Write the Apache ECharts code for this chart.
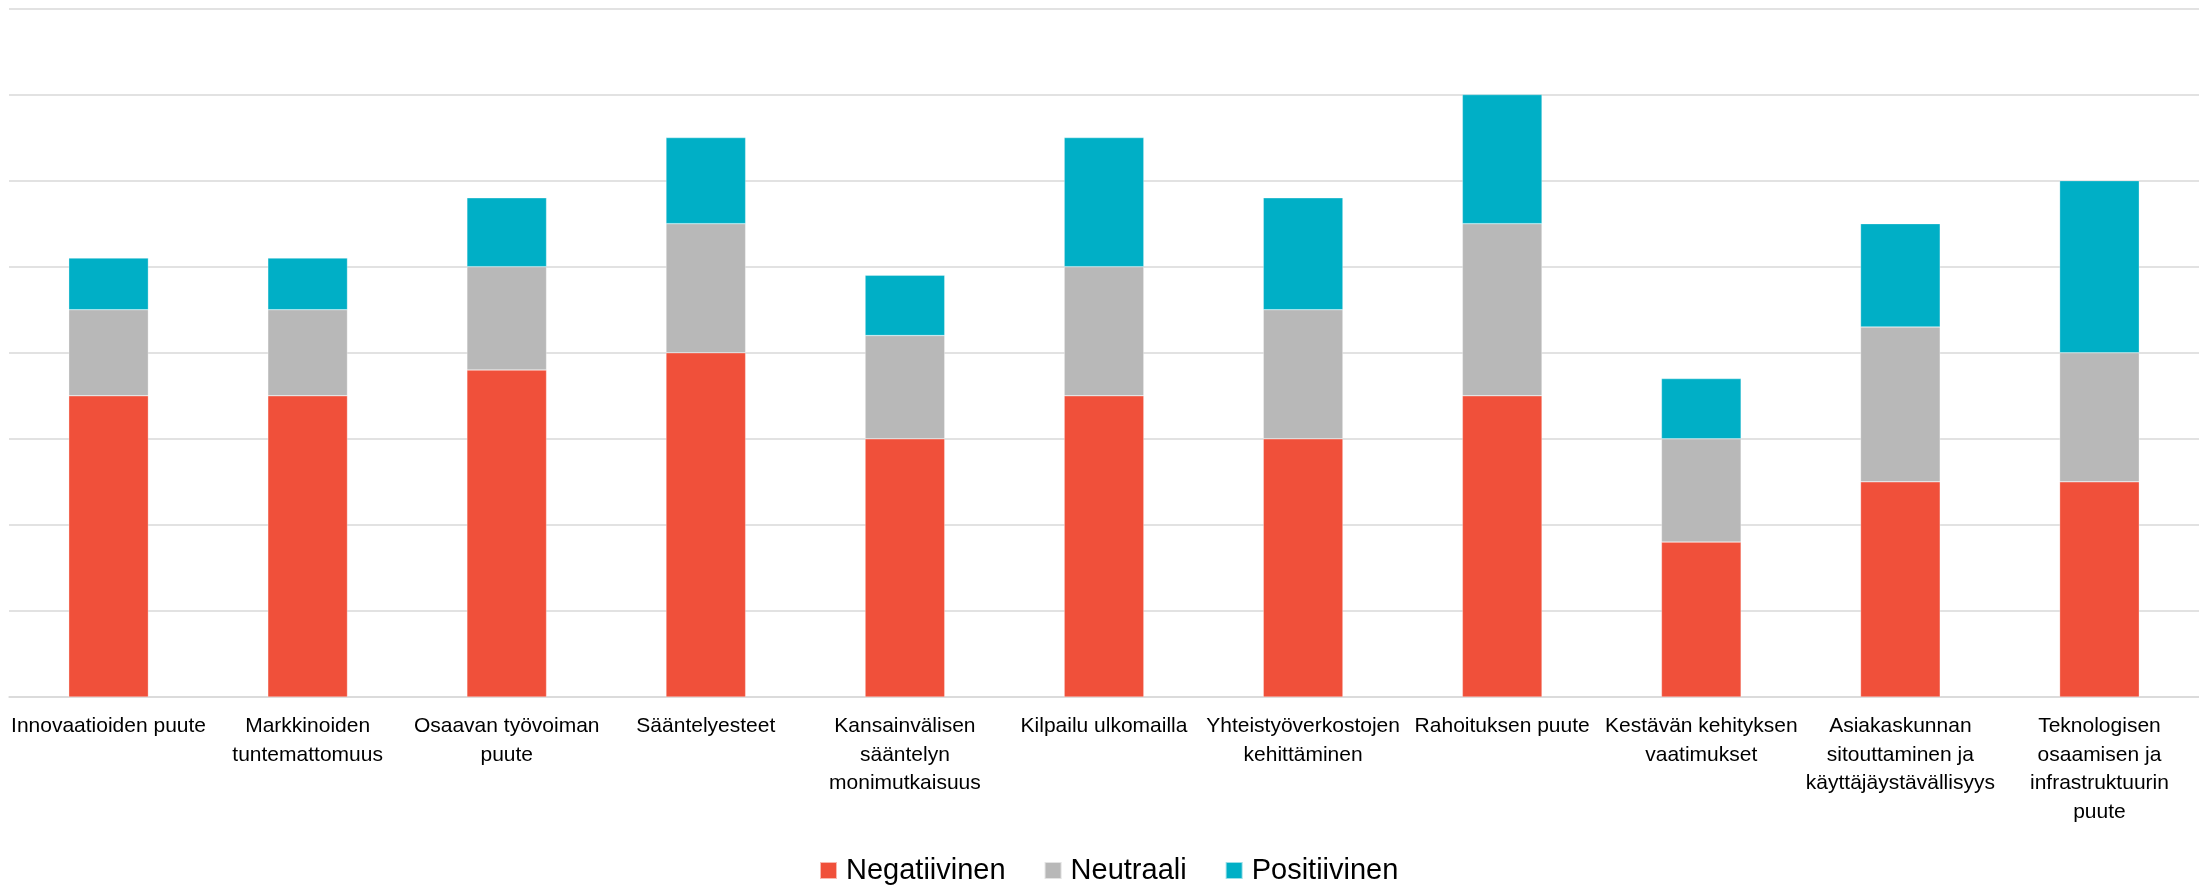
<!DOCTYPE html>
<html>
<head>
<meta charset="utf-8">
<script src="https://cdn.jsdelivr.net/npm/echarts@6/dist/echarts.min.js"></script>
<style>
html,body{margin:0;padding:0;background:#fff;}
#chart{width:2199px;height:885px;}
</style>
</head>
<body>
<div id="chart"></div>
<script>
const categories = [
  "Innovaatioiden puute",
  "Markkinoiden\ntuntemattomuus",
  "Osaavan työvoiman\npuute",
  "Sääntelyesteet",
  "Kansainvälisen\nsääntelyn\nmonimutkaisuus",
  "Kilpailu ulkomailla",
  "Yhteistyöverkostojen\nkehittäminen",
  "Rahoituksen puute",
  "Kestävän kehityksen\nvaatimukset",
  "Asiakaskunnan\nsitouttaminen ja\nkäyttäjäystävällisyys",
  "Teknologisen\nosaamisen ja\ninfrastruktuurin\npuute"
];
const negatiivinen = [35, 35, 38, 40, 30, 35, 30, 35, 18, 25, 25];
const neutraali    = [10, 10, 12, 15, 12, 15, 15, 20, 12, 18, 15];
const positiivinen = [ 6,  6,  8, 10,  7, 15, 13, 15,  7, 12, 20];
const seriesNames = ["Negatiivinen", "Neutraali", "Positiivinen"];
const colors = ["#F0503A", "#B8B8B8", "#00AFC6"];

const chart = echarts.init(document.getElementById('chart'));
const FONT = "'Liberation Sans', Arial, sans-serif";
const mk = (name, data, color) => ({
  name: name,
  type: 'bar',
  stack: 'total',
  data: data,
  barWidth: '40%',
  itemStyle: { color: color, borderColor: 'rgba(255,255,255,0.6)', borderWidth: 0.5 },
  emphasis: { disabled: true }
});
chart.setOption({
  animation: false,
  textStyle: { fontFamily: FONT },
  grid: { left: 9, right: 0, top: 8.5, bottom: 188, containLabel: false },
  legend: {
    data: seriesNames,
    left: 814,
    top: 851,
    itemWidth: 17,
    itemHeight: 17,
    itemGap: 38,
    icon: 'rect',
    textStyle: { fontSize: 29, color: '#000', fontFamily: FONT, padding: [0, 0, 0, 4] }
  },
  xAxis: {
    type: 'category',
    data: categories,
    axisLine: { show: true, lineStyle: { color: '#d9d9d9', width: 1.5 } },
    axisTick: { show: false },
    axisLabel: {
      interval: 0,
      margin: 15,
      fontSize: 21,
      lineHeight: 28.5,
      color: '#000',
      fontFamily: FONT,
      align: 'center'
    }
  },
  yAxis: {
    type: 'value',
    min: 0,
    max: 80,
    interval: 10,
    axisLabel: { show: false },
    axisLine: { show: false },
    axisTick: { show: false },
    splitLine: { show: true, lineStyle: { color: '#d9d9d9', width: 1.5 } }
  },
  series: [
    mk(seriesNames[0], negatiivinen, colors[0]),
    mk(seriesNames[1], neutraali, colors[1]),
    mk(seriesNames[2], positiivinen, colors[2])
  ]
});
</script>
</body>
</html>
